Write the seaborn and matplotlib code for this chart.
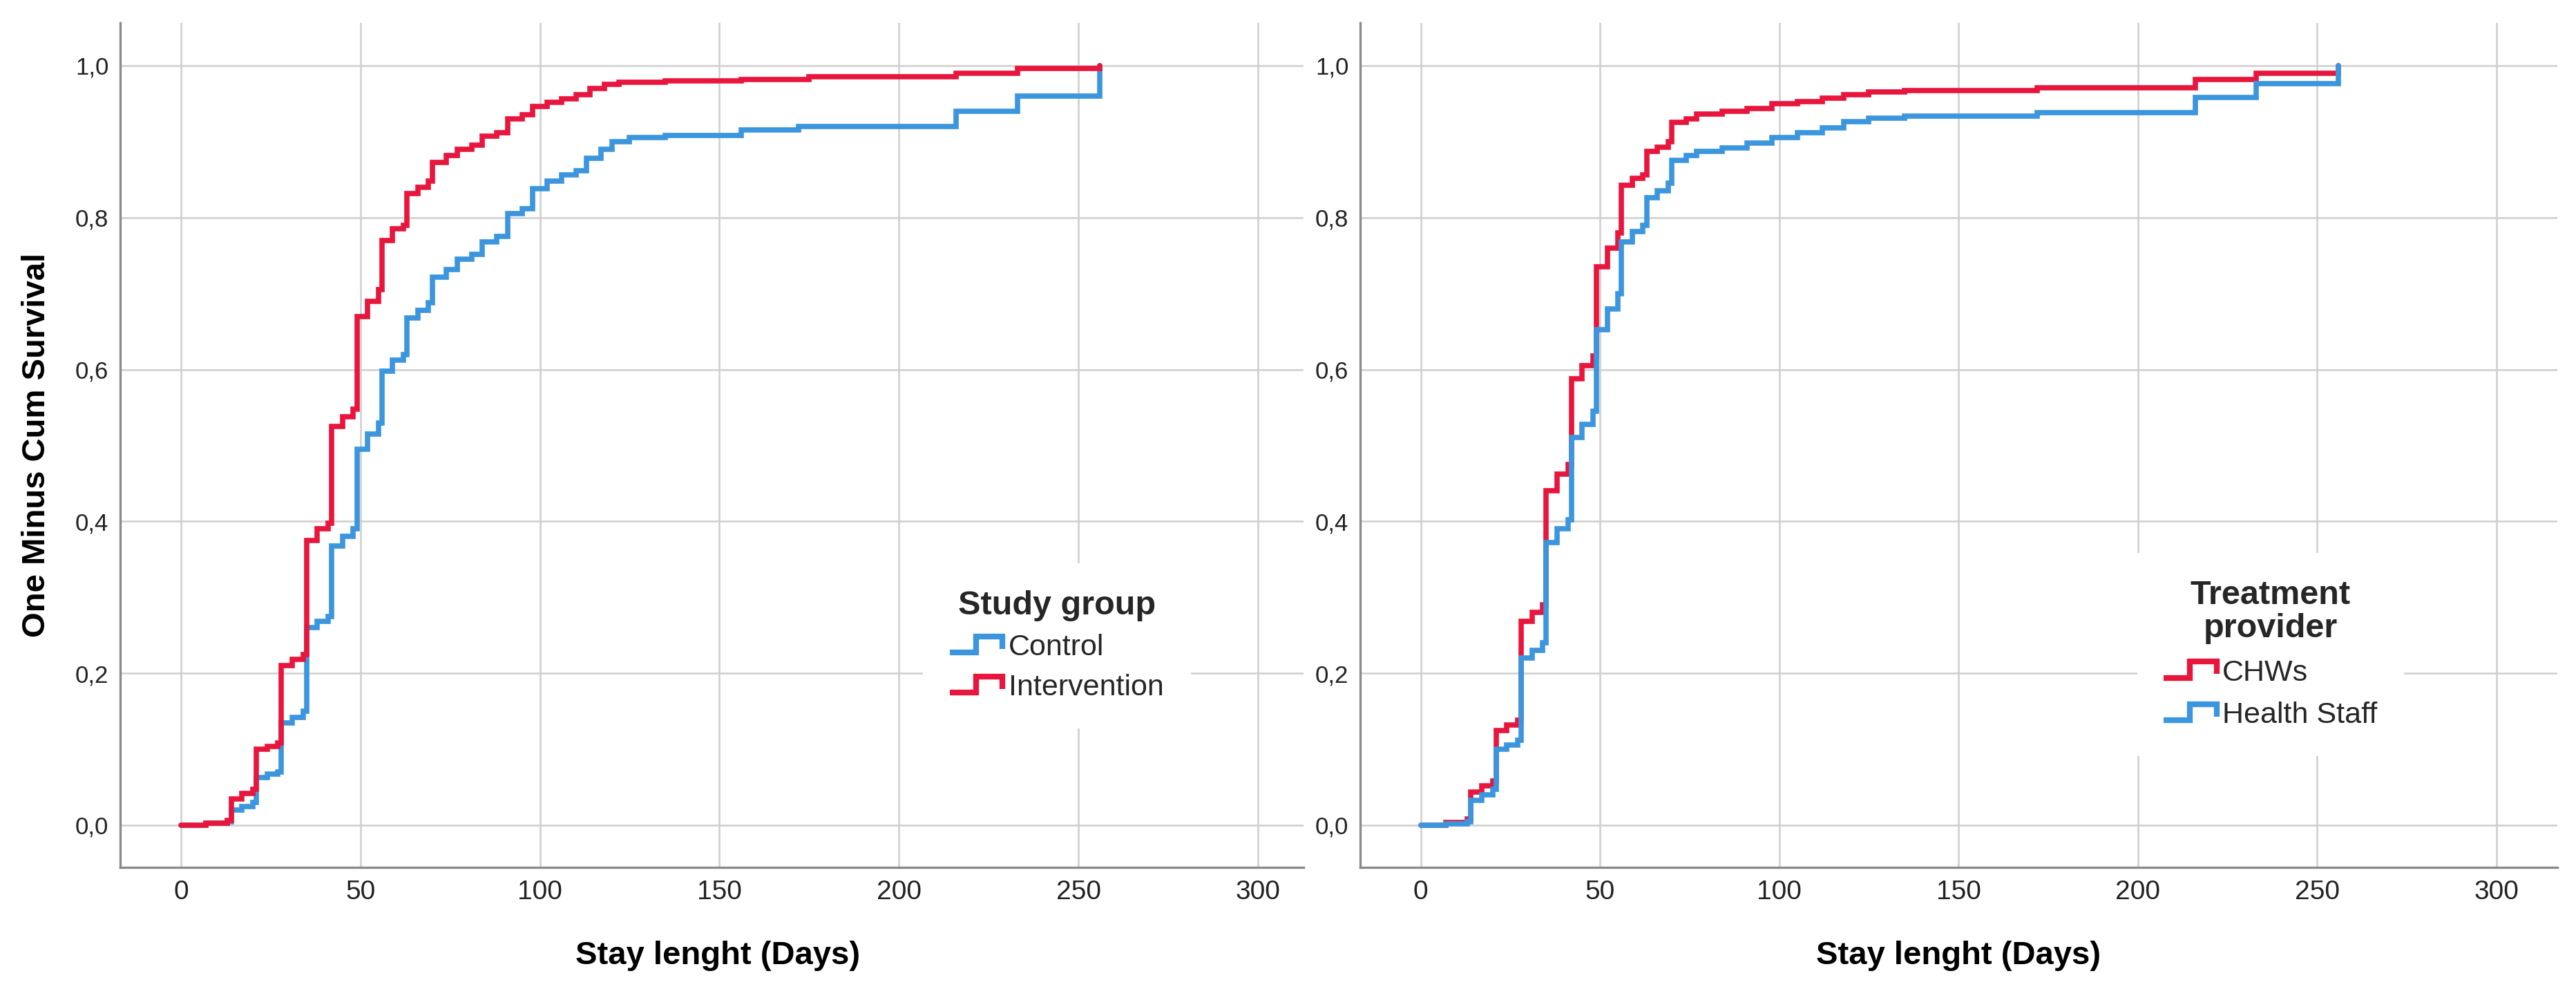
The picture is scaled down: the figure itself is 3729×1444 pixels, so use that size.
import numpy as np
import pandas as pd
import matplotlib
matplotlib.use("Agg")
import matplotlib.pyplot as plt
import seaborn as sns
from matplotlib import font_manager
from matplotlib.lines import Line2D
from matplotlib.legend_handler import HandlerBase

# ==================================================
# DATA
# ==================================================

# left panel - study group
control_days = [0, 7, 13, 14, 17, 20, 21, 24, 27, 28, 31, 34, 35, 38, 41, 42, 45, 48,
                49, 52, 55, 56, 59, 62, 63, 66, 69, 70, 74, 77, 81, 84, 88, 91, 95, 98,
                102, 106, 110, 113, 117, 120, 125, 135, 156, 172, 216, 233, 256]
control_surv = [0.000, 0.003, 0.005, 0.020, 0.025, 0.030, 0.063, 0.067, 0.070, 0.135,
                0.142, 0.150, 0.260, 0.268, 0.275, 0.368, 0.380, 0.390, 0.495, 0.515,
                0.530, 0.598, 0.612, 0.620, 0.668, 0.678, 0.688, 0.722, 0.732, 0.745,
                0.752, 0.768, 0.775, 0.805, 0.812, 0.838, 0.848, 0.856, 0.862, 0.878,
                0.890, 0.900, 0.905, 0.908, 0.915, 0.920, 0.940, 0.960, 1.000]

interv_days = [0, 7, 13, 14, 17, 20, 21, 24, 27, 28, 31, 34, 35, 38, 41, 42, 45, 48,
               49, 52, 55, 56, 59, 62, 63, 66, 69, 70, 74, 77, 81, 84, 88, 91, 95, 98,
               102, 106, 110, 114, 118, 122, 135, 156, 175, 216, 233, 256]
interv_surv = [0.000, 0.003, 0.006, 0.035, 0.042, 0.047, 0.100, 0.104, 0.108, 0.210,
               0.218, 0.225, 0.375, 0.390, 0.398, 0.525, 0.538, 0.548, 0.670, 0.690,
               0.705, 0.770, 0.785, 0.790, 0.832, 0.840, 0.848, 0.873, 0.882, 0.890,
               0.895, 0.907, 0.912, 0.930, 0.935, 0.946, 0.952, 0.956, 0.962, 0.970,
               0.975, 0.978, 0.980, 0.982, 0.985, 0.990, 0.996, 1.000]

# right panel - treatment provider
chw_days = [0, 7, 13, 14, 17, 20, 21, 24, 27, 28, 31, 34, 35, 38, 41, 42, 45, 48,
            49, 52, 55, 56, 59, 62, 63, 66, 69, 70, 74, 77, 84, 91, 98, 105, 112,
            118, 125, 135, 172, 216, 233, 256]
chw_surv = [0.000, 0.004, 0.008, 0.044, 0.052, 0.058, 0.125, 0.132, 0.138, 0.268,
            0.280, 0.290, 0.440, 0.462, 0.475, 0.588, 0.605, 0.618, 0.735, 0.760,
            0.780, 0.843, 0.852, 0.856, 0.887, 0.893, 0.900, 0.925, 0.930, 0.936,
            0.940, 0.944, 0.950, 0.953, 0.957, 0.962, 0.965, 0.967, 0.971, 0.982,
            0.990, 1.000]

staff_days = [0, 7, 13, 14, 17, 20, 21, 24, 27, 28, 31, 34, 35, 38, 41, 42, 45, 48,
              49, 52, 55, 56, 59, 62, 63, 66, 69, 70, 74, 77, 84, 91, 98, 105, 112,
              118, 125, 135, 172, 216, 233, 256]
staff_surv = [0.000, 0.002, 0.005, 0.033, 0.040, 0.047, 0.100, 0.106, 0.112, 0.220,
              0.230, 0.240, 0.372, 0.390, 0.402, 0.510, 0.528, 0.545, 0.652, 0.680,
              0.700, 0.768, 0.782, 0.790, 0.826, 0.835, 0.845, 0.875, 0.882, 0.887,
              0.892, 0.898, 0.905, 0.912, 0.918, 0.926, 0.931, 0.934, 0.938, 0.958,
              0.976, 1.000]

x_ticks = [0, 50, 100, 150, 200, 250, 300]
x_tick_labels = ["0", "50", "100", "150", "200", "250", "300"]
y_ticks = [0.0, 0.2, 0.4, 0.6, 0.8, 1.0]
y_tick_labels = ["0,0", "0,2", "0,4", "0,6", "0,8", "1,0"]

BLUE = "#3c96de"
RED = "#e8163d"

# ==================================================
# STYLE
# ==================================================

sns.set_theme(style="whitegrid")
plt.rcParams["font.family"] = ["Liberation Sans", "DejaVu Sans"]

names = {f.name for f in font_manager.fontManager.ttflist}
if "Liberation Sans Narrow" in names:
    xtick_font = dict(family="Liberation Sans Narrow", size=32)
    ytick_font = dict(family="Liberation Sans Narrow", size=28)
else:
    xtick_font = dict(family="Liberation Sans", size=28)
    ytick_font = dict(family="Liberation Sans", size=25)

GRID = "#d0d0d0"
SPINE = "#8a8a8a"


class StepHandler(HandlerBase):
    # SPSS-like step glyph for the legend
    def create_artists(self, legend, orig_handle, xdescent, ydescent,
                       width, height, fontsize, trans):
        xs = np.array([0, 0.5, 0.5, 1.0, 1.0]) * width - xdescent
        ys = np.array([0.1, 0.1, 0.95, 0.95, 0.3]) * height - ydescent
        ln = Line2D(xs, ys, color=orig_handle.get_color(),
                    lw=orig_handle.get_linewidth(),
                    solid_joinstyle="miter", solid_capstyle="butt")
        ln.set_transform(trans)
        return [ln]


def long_frame(series):
    rows = []
    for name, days, vals in series:
        for d, v in zip(days, vals):
            rows.append({"day": d, "surv": v, "group": name})
    return pd.DataFrame(rows)


def style_axis(ax, xmax):
    ax.set_xlim(-16.9, xmax)
    ax.set_ylim(-0.0555, 1.0564)
    ax.set_xticks(x_ticks)
    ax.set_xticklabels(x_tick_labels, fontdict=xtick_font, color="#222222")
    ax.set_yticks(y_ticks)
    ax.set_yticklabels(y_tick_labels, fontdict=ytick_font, color="#222222")
    ax.tick_params(axis="x", length=0, pad=13)
    ax.tick_params(axis="y", length=0, pad=12)
    ax.grid(True, color=GRID, linewidth=1.9)
    for s in ["top", "right"]:
        ax.spines[s].set_visible(False)
    for s in ["left", "bottom"]:
        ax.spines[s].set_visible(True)
        ax.spines[s].set_color(SPINE)
        ax.spines[s].set_linewidth(2.4)
    ax.set_xlabel("Stay lenght (Days)", fontsize=34, fontweight="bold", color="black")
    ax.set_ylabel("")


fig = plt.figure(figsize=(37.3, 14.44), dpi=100)
ax1 = fig.add_axes([0.04665, 0.13089, 0.45925, 0.84626])
ax2 = fig.add_axes([0.52788, 0.13089, 0.46461, 0.84626])

# ==================================================
# LEFT PANEL - STUDY GROUP
# ==================================================

df1 = long_frame([("Control", control_days, control_surv),
                  ("Intervention", interv_days, interv_surv)])
sns.lineplot(data=df1, x="day", y="surv", hue="group",
             palette={"Control": BLUE, "Intervention": RED},
             estimator=None, drawstyle="steps-post", linewidth=5.5,
             solid_joinstyle="miter", legend=False, ax=ax1)
style_axis(ax1, 312.7)
ax1.xaxis.set_label_coords(0.505, -0.087)
ax1.set_ylabel("One Minus Cum Survival", fontsize=34, fontweight="bold", color="black")
ax1.yaxis.set_label_coords(-0.058, 0.5)

h1 = [Line2D([], [], color=BLUE, lw=6), Line2D([], [], color=RED, lw=6)]
leg1 = ax1.legend(h1, ["Control", "Intervention"], title="Study group",
                  loc="center", bbox_to_anchor=(0.7916, 0.262),
                  handler_map={Line2D: StepHandler()},
                  prop={"size": 31}, title_fontproperties={"size": 35, "weight": "bold"},
                  handlelength=1.77, handleheight=0.6, handletextpad=0.2,
                  labelspacing=0.42, borderpad=0.9, frameon=True, fancybox=False,
                  framealpha=1, facecolor="white", edgecolor="white")
leg1.get_frame().set_linewidth(0)

# ==================================================
# RIGHT PANEL - TREATMENT PROVIDER
# ==================================================

df2 = long_frame([("CHWs", chw_days, chw_surv),
                  ("Health Staff", staff_days, staff_surv)])
sns.lineplot(data=df2, x="day", y="surv", hue="group",
             palette={"CHWs": RED, "Health Staff": BLUE},
             estimator=None, drawstyle="steps-post", linewidth=5.5,
             solid_joinstyle="miter", legend=False, ax=ax2)
style_axis(ax2, 317)
ax2.xaxis.set_label_coords(0.5, -0.087)

h2 = [Line2D([], [], color=RED, lw=6), Line2D([], [], color=BLUE, lw=6)]
leg2 = ax2.legend(h2, ["CHWs", "Health Staff"], title="Treatment\nprovider",
                  loc="center", bbox_to_anchor=(0.7605, 0.252),
                  handler_map={Line2D: StepHandler()},
                  prop={"size": 31}, title_fontproperties={"size": 35, "weight": "bold"},
                  handlelength=1.77, handleheight=0.6, handletextpad=0.2,
                  labelspacing=0.5, borderpad=0.9, frameon=True, fancybox=False,
                  framealpha=1, facecolor="white", edgecolor="white")
leg2.get_frame().set_linewidth(0)
leg2.get_title().set_multialignment("center")
leg2.get_title().set_linespacing(1.1)

fig.savefig("out.png", dpi=100, facecolor="white")
